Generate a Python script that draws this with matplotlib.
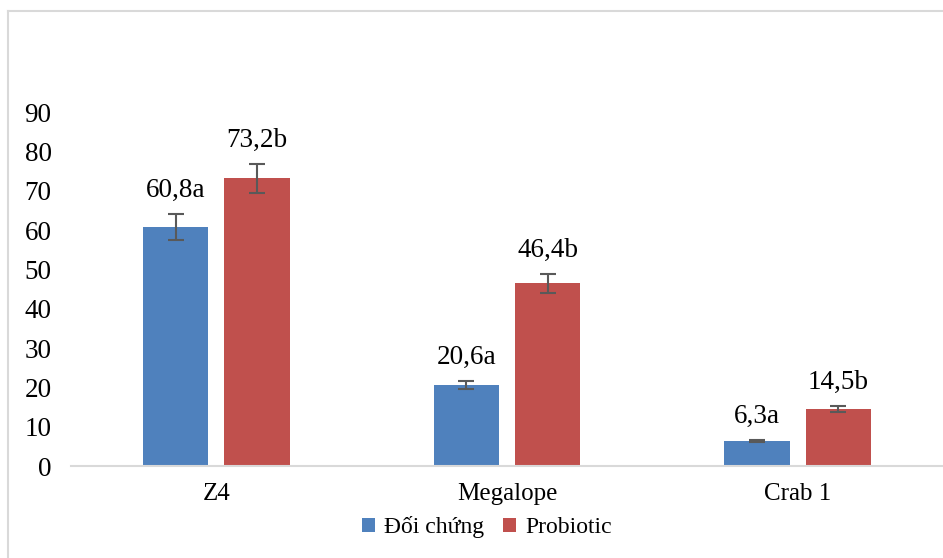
import matplotlib.pyplot as plt
import numpy as np
from matplotlib.lines import Line2D

plt.rcParams['font.family'] = ['Liberation Serif', 'DejaVu Serif']

stages = ["Z4", "Megalope", "Crab 1"]
control = [60.8, 20.6, 6.3]
control_err = [3.3, 1.0, 0.3]
control_labels = ["60,8a", "20,6a", "6,3a"]
probiotic = [73.2, 46.4, 14.5]
probiotic_err = [3.7, 2.3, 0.7]
probiotic_labels = ["73,2b", "46,4b", "14,5b"]
series_names = ["Đối chứng", "Probiotic"]

blue = "#4F81BD"
red = "#C0504D"

fig = plt.figure(figsize=(9.43, 5.58), dpi=100)
ax = fig.add_axes([71 / 943, 92 / 558, 872 / 943, 354 / 558])

x = np.arange(len(stages))
w = 0.224
off = 0.14
ax.bar(x - off, control, w, color=blue, label=series_names[0])
ax.bar(x + off, probiotic, w, color=red, label=series_names[1])
ax.errorbar(x - off, control, yerr=control_err, fmt="none", ecolor="#595959",
            elinewidth=1.5, capsize=6, capthick=1.5)
ax.errorbar(x + off, probiotic, yerr=probiotic_err, fmt="none", ecolor="#595959",
            elinewidth=1.5, capsize=6, capthick=1.5)

for xi, v, e, t in zip(x - off, control, control_err, control_labels):
    ax.annotate(t, (xi, v + e), xytext=(0, 8), textcoords="offset points",
                ha="center", va="bottom", fontsize=19.5)
for xi, v, e, t in zip(x + off, probiotic, probiotic_err, probiotic_labels):
    ax.annotate(t, (xi, v + e), xytext=(0, 8), textcoords="offset points",
                ha="center", va="bottom", fontsize=19.5)

ax.set_xlim(-0.5, 2.5)
ax.set_ylim(0, 90)
ax.set_yticks(range(0, 91, 10))
ax.set_xticks(x)
ax.set_xticklabels(stages, fontsize=18)
ax.tick_params(axis="both", length=0)
ax.tick_params(axis="y", pad=14, labelsize=19.5)
ax.tick_params(axis="x", pad=12)
for s in ["top", "right", "left"]:
    ax.spines[s].set_visible(False)
ax.spines["bottom"].set_color("#d9d9d9")
ax.spines["bottom"].set_linewidth(1.5)

ax.legend(loc="center", bbox_to_anchor=(487 / 943, 31 / 558), bbox_transform=fig.transFigure,
          ncol=2, frameon=False, fontsize=17, handlelength=0.55, handleheight=0.55,
          handletextpad=0.4, columnspacing=0.8)

# outer chart border (top and left edges visible)
fig.add_artist(Line2D([8 / 943, 1], [1 - 10.5 / 558, 1 - 10.5 / 558],
                      transform=fig.transFigure, color="#d9d9d9", lw=1.5))
fig.add_artist(Line2D([8 / 943, 8 / 943], [0, 1 - 10.5 / 558],
                      transform=fig.transFigure, color="#d9d9d9", lw=1.5))

fig.savefig("out.png", dpi=100)
